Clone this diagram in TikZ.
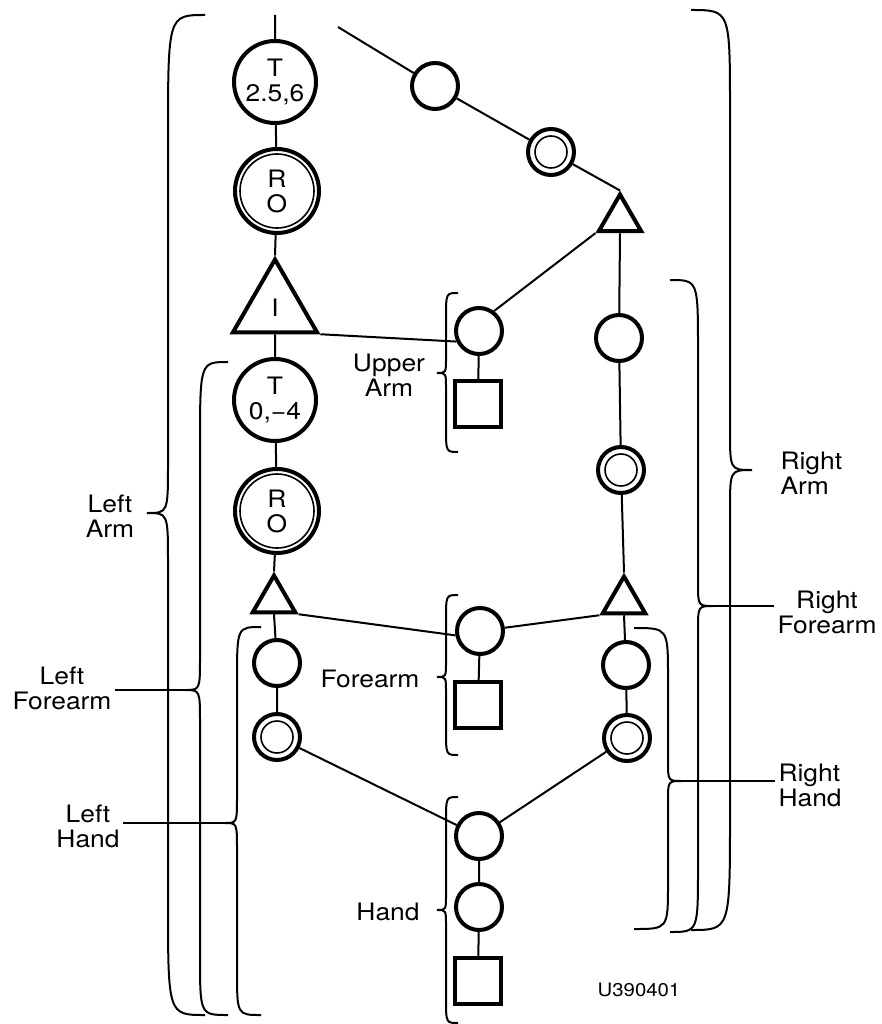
\documentclass[tikz,border=0pt]{standalone}
\usepackage{fontspec}
\setmainfont{TeX Gyre Heros}[FakeStretch=1.1]
\usetikzlibrary{shapes.geometric}
% brace: xv, x of ends, y top, top sweep, x tip, y tip, tip half length, y bottom, bottom sweep
\newcommand{\curlybrace}[9]{%
  \draw[brc] (#2,#3) .. controls (#1,#3) .. (#1,#3+#4) -- (#1,#6-#7)
    .. controls (#1,#6) .. (#5,#6) .. controls (#1,#6) .. (#1,#6+#7)
    -- (#1,#8-#9) .. controls (#1,#8) .. (#2,#8);}
\tikzset{
  jnt/.style={circle,draw,line width=4pt,inner sep=0pt,minimum size=46pt,align=center},
  tjnt/.style={jnt,minimum size=82pt},
  dbl/.style={path picture={\draw[line width=1.6pt] (path picture bounding box.center) circle[radius=#1];}},
  rjnt/.style={jnt,minimum size=84pt,dbl=37pt},
  djnt/.style={jnt,dbl=16pt},
  tri/.style={regular polygon,regular polygon sides=3,draw,line width=4pt,inner sep=0pt,minimum size=#1},
  sq/.style={rectangle,draw,line width=4pt,inner sep=0pt,minimum size=46pt},
  lnk/.style={line width=2pt},
  brc/.style={line width=2pt},
  lab/.style={align=center}
}
\begin{document}
\begin{tikzpicture}[x=1pt,y=-1pt,font=\fontsize{24}{25}\selectfont]
  \useasboundingbox (0,0) rectangle (882,1024);
  % left chain
  \coordinate (top1) at (275,15);
  \node[tjnt] (T1) at (275,82) {T\\2.5,6};
  \node[rjnt] (RO1) at (277,191) {R\\O};
  \node[tri=97pt] (triI) at (275,308) {I};
  \node[tjnt] (T2) at (275,400) {T\\0,\char"2212 4};
  \node[rjnt] (RO2) at (277,511) {R\\O};
  \node[tri=49pt] (ltri) at (274,600) {};
  \node[jnt] (lc) at (277,663) {};
  \node[djnt] (ld) at (277,737) {};
  % middle column
  \node[jnt] (ua) at (479,331) {};
  \node[sq] (uasq) at (478,404) {};
  \node[jnt] (fa) at (480,631) {};
  \node[sq] (fasq) at (478,705) {};
  \node[jnt] (h1) at (479,836) {};
  \node[jnt] (h2) at (479,907) {};
  \node[sq] (hsq) at (478,981) {};
  % right chain
  \coordinate (top2) at (338,27);
  \node[jnt] (rc1) at (435,86) {};
  \node[djnt] (rd1) at (551,152) {};
  \node[tri=49pt] (rtri1) at (620,219) {};
  \node[jnt] (rc2) at (619,338) {};
  \node[djnt] (rd2) at (621,470) {};
  \node[tri=49pt] (rtri2) at (624,601) {};
  \node[jnt] (rc3) at (626,665) {};
  \node[djnt] (rd3) at (627,738) {};

  \draw[lnk] (top1) -- (T1) -- (RO1) -- (triI.corner 1);
  \draw[lnk] (triI.south) -- (T2) -- (RO2) -- (ltri.corner 1);
  \draw[lnk] (ltri.south) -- (lc) -- (ld) -- (h1) -- (h2) -- (hsq);
  \draw[lnk] (top2) -- (rc1) -- (rd1) -- (rtri1.corner 1);
  \draw[lnk] (rtri1.south) -- (rc2) -- (rd2) -- (rtri2.corner 1);
  \draw[lnk] (rtri2.south) -- (rc3) -- (rd3) -- (h1);
  \draw[lnk] (triI.corner 3) -- (ua.205);
  \draw[lnk] (rtri1.corner 2) -- (ua.53);
  \draw[lnk] (ltri.corner 3) -- (fa.190);
  \draw[lnk] (fa) -- (rtri2.corner 2);
  \draw[lnk] (ua) -- (uasq);
  \draw[lnk] (fa) -- (fasq);

  % braces
  \curlybrace{168}{205}{15}{125}{147}{513}{50}{1015}{115}
  \curlybrace{200}{228}{362}{85}{185}{690}{33}{1015}{60}
  \curlybrace{237}{261}{627}{55}{225}{823}{27}{1015}{45}
  \curlybrace{446}{458}{293}{25}{437}{373}{15}{452}{25}
  \curlybrace{446}{458}{595}{25}{437}{677}{15}{755}{25}
  \curlybrace{446}{458}{797}{25}{437}{910}{15}{1023}{25}
  \curlybrace{730}{691}{10}{100}{752}{470}{40}{930}{115}
  \curlybrace{698}{670}{280}{70}{713}{606}{24}{932}{65}
  \curlybrace{668}{634}{628}{50}{682}{781}{20}{929}{46}

  % labels
  \node[lab] (lalab) at (110,516) {Left\\Arm};
  \node[lab] (lfalab) at (62,688) {Left\\Forearm};
  \node[lab] (lhlab) at (88,826) {Left\\Hand};
  \node[lab] (ualab) at (389,375) {Upper\\Arm};
  \node[lab] (falab) at (370,679) {Forearm};
  \node[lab] (hlab) at (388,912) {Hand};
  \node[lab,anchor=west,align=left] (ralab) at (777,473) {Right\\Arm};
  \node[lab] (rfalab) at (827,612) {Right\\Forearm};
  \node[lab,anchor=west,align=left] (rhlab) at (775,785) {Right\\Hand};
  \node[font=\fontsize{18.5}{20}\selectfont] (code) at (639,990) {U390401};

  \coordinate (lfatip) at (185,690);
  \coordinate (lhtip) at (225,823);
  \coordinate (rfatip) at (713,606);
  \coordinate (rhtip) at (682,781);
  \draw[brc] (lfalab.east |- lfatip) -- (lfatip);
  \draw[brc] (lhlab.east |- lhtip) -- (lhtip);
  \draw[brc] (rfatip) -- (rfalab.west |- rfatip);
  \draw[brc] (rhtip) -- (rhlab.west |- rhtip);
\end{tikzpicture}
\end{document}
